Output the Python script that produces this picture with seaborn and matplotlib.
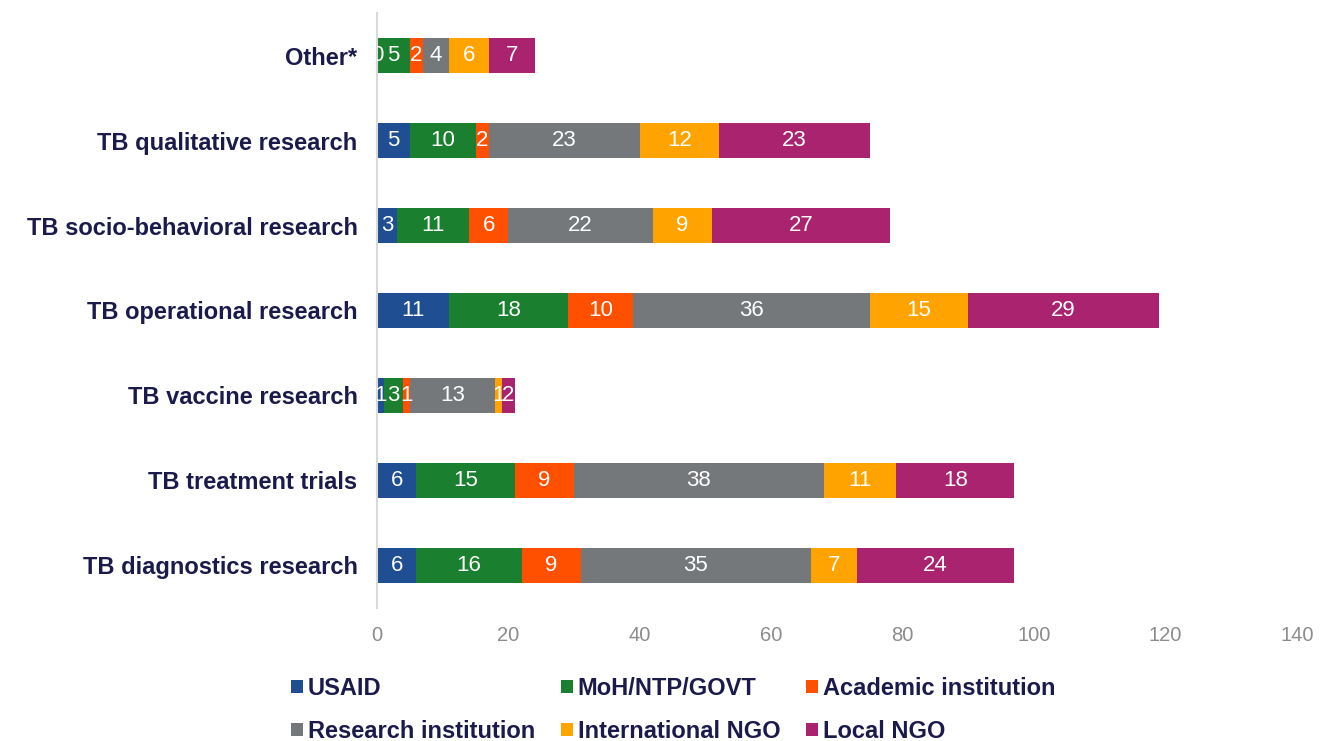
import numpy as np
import pandas as pd
import seaborn as sns
import matplotlib.pyplot as plt

# Chart data
categories = ["Other*", "TB qualitative research", "TB socio-behavioral research",
              "TB operational research", "TB vaccine research", "TB treatment trials",
              "TB diagnostics research"]
series_names = ["USAID", "MoH/NTP/GOVT", "Academic institution",
                "Research institution", "International NGO", "Local NGO"]
usaid = [0, 5, 3, 11, 1, 6, 6]
moh = [5, 10, 11, 18, 3, 15, 16]
academic = [2, 2, 6, 10, 1, 9, 9]
research = [4, 23, 22, 36, 13, 38, 35]
intl_ngo = [6, 12, 9, 15, 1, 11, 7]
local_ngo = [7, 23, 27, 29, 2, 18, 24]
x_ticks = [0, 20, 40, 60, 80, 100, 120, 140]

colors = ["#1F4E93", "#1A7F2E", "#FF5000", "#75787B", "#FFA300", "#A9236E"]
navy = "#1B1B4B"

df = pd.DataFrame({"category": categories, "USAID": usaid, "MoH/NTP/GOVT": moh,
                   "Academic institution": academic, "Research institution": research,
                   "International NGO": intl_ngo, "Local NGO": local_ngo})
cum = df[series_names].cumsum(axis=1)

sns.set_theme(style="white")
plt.rcParams["font.family"] = ["Liberation Sans", "DejaVu Sans"]

fig = plt.figure(figsize=(13.37, 7.41), dpi=100)
ax = fig.add_axes([0.282, 0.180, 0.688, 0.802])

# stacked bars: draw cumulative totals from longest to shortest
for i in reversed(range(len(series_names))):
    sns.barplot(x=cum[series_names[i]], y=df["category"], color=colors[i],
                saturation=1, width=0.41, linewidth=0, label=series_names[i],
                orient="h", ax=ax)

# segment labels
for j in range(len(categories)):
    left = 0
    for name in series_names:
        v = df[name][j]
        ax.text(left + v / 2, j, str(v), ha="center", va="center",
                color="white", fontsize=16, clip_on=True)
        left += v

ax.set_xlim(0, 140)
ax.set_ylim(6.5, -0.5)
ax.set_xticks(x_ticks)
ax.set_xlabel("")
ax.set_ylabel("")
ax.tick_params(axis="x", length=0, pad=13, labelsize=14.5, labelcolor="#8C8C8C")
ax.tick_params(axis="y", length=0, pad=14, labelsize=17, labelcolor=navy)
for lab in ax.get_yticklabels():
    lab.set_fontweight("bold")
for s in ["top", "right", "bottom"]:
    ax.spines[s].set_visible(False)
ax.spines["left"].set_color("#D9D9D9")
ax.spines["left"].set_linewidth(1.5)

handles, labels = ax.get_legend_handles_labels()
if ax.get_legend() is not None:
    ax.get_legend().remove()
lookup = dict(zip(labels, handles))
order = ["USAID", "Research institution", "MoH/NTP/GOVT",
         "International NGO", "Academic institution", "Local NGO"]
leg = fig.legend([lookup[o] for o in order], order, ncol=3, loc="center left",
                 bbox_to_anchor=(0.218, 0.042), frameon=False,
                 borderaxespad=0, borderpad=0,
                 handlelength=0.5, handleheight=0.5, handletextpad=0.2,
                 columnspacing=1.1, labelspacing=0.85,
                 prop={"size": 17, "weight": "bold"})
for t in leg.get_texts():
    t.set_color(navy)

fig.savefig("out.png", dpi=100)
